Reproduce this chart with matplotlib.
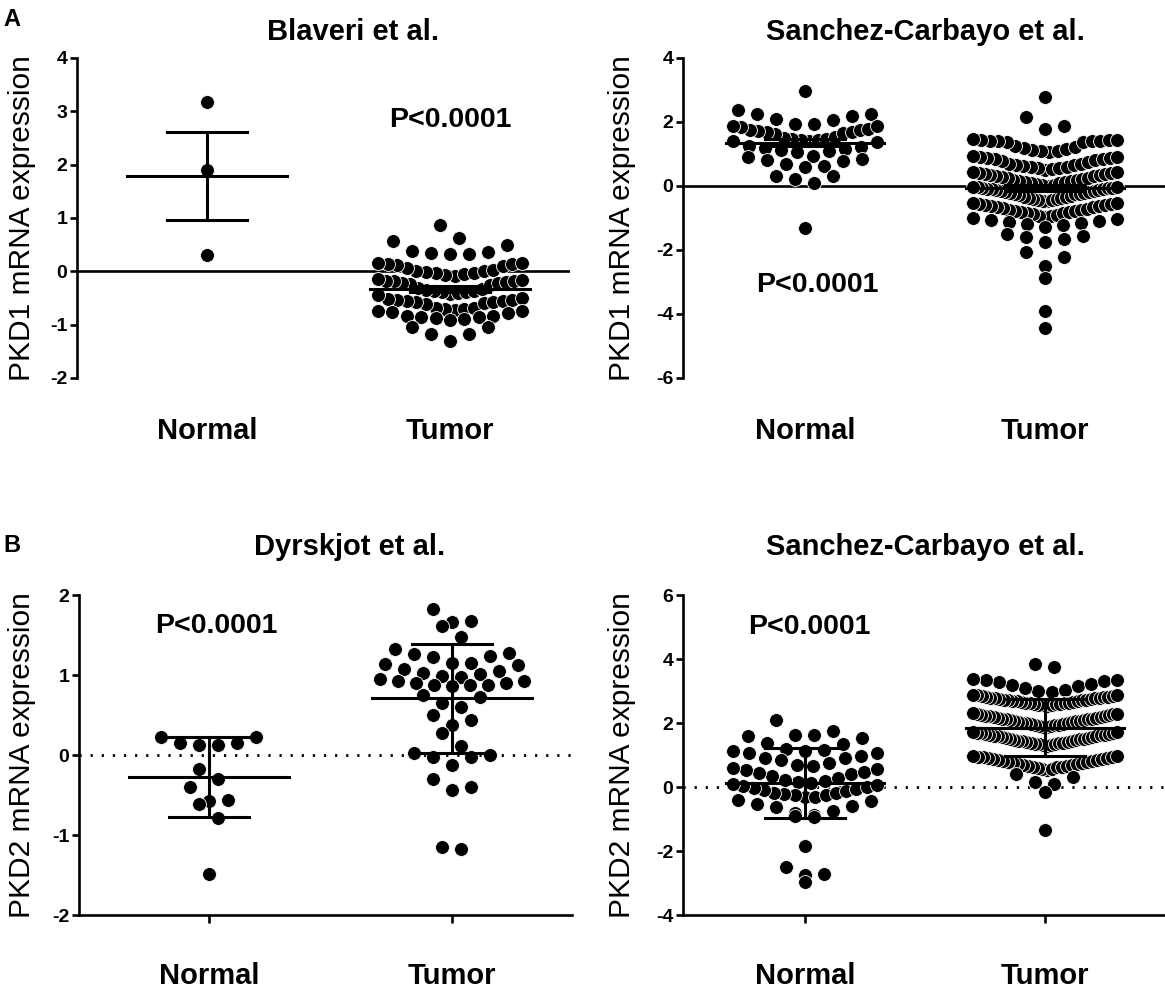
import matplotlib
matplotlib.use('Agg')
from matplotlib import pyplot
from matplotlib import transforms
import numpy

pyplot.rcParams['font.family'] = ['Liberation Sans', 'DejaVu Sans']
pyplot.rcParams['axes.unicode_minus'] = False

groups = ['Normal', 'Tumor']

# PKD1, Blaveri et al.
blaveri_normal = [3.17, 1.90, 0.30]
blaveri_tumor = [0.86, 0.62, 0.56, 0.49,
                 0.38, 0.33, 0.33, 0.34, 0.37,
                 0.16, 0.14, 0.10, 0.12, 0.13, 0.15, 0.06,
                 0.02, -0.02, -0.05, -0.08, -0.04, 0.00, -0.03, -0.06, 0.01,
                 -0.18, -0.20, -0.22, -0.25, -0.15, -0.19, -0.23, -0.17, -0.21, -0.18,
                 -0.33, -0.36, -0.40, -0.42, -0.35, -0.38, -0.31, -0.44, -0.37, -0.39,
                 -0.50, -0.53, -0.56, -0.60, -0.58, -0.52, -0.61, -0.55, -0.57, -0.54,
                 -0.68, -0.70, -0.74, -0.76, -0.72, -0.69, -0.75, -0.71, -0.78,
                 -0.83, -0.86, -0.90, -0.85, -0.88, -0.92, -0.84,
                 -1.05, -1.05, -1.17, -1.17, -1.30]

# PKD1, Sanchez-Carbayo et al.
sc1_normal = [2.97, 2.36, 2.24, 2.19, 2.24, 2.08, 2.05, 1.93, 1.93, 1.88, 1.88, 1.85,
              1.75, 1.72, 1.70, 1.68, 1.78, 1.65, 1.74, 1.62,
              1.50, 1.48, 1.45, 1.42, 1.52, 1.40, 1.46, 1.38, 1.44,
              1.25, 1.22, 1.18, 1.10, 1.15, 1.05, 1.12,
              0.94, 0.90, 0.85, 0.78, 0.82, 0.70, 0.63, 0.60,
              0.31, 0.21, 0.10, 0.31, -1.30]
sc1_tumor = [2.78, 2.16, 1.79, 1.86,
             1.45, 1.42, 1.40, 1.44, 1.41, 1.43, 1.46, 1.39, 1.38, 1.42,
             1.25, 1.18, 1.10, 1.05, 1.22, 1.15, 1.08, 1.12,
             0.95, 0.88, 0.85, 0.92, 0.80, 0.90, 0.83, 0.78, 0.86, 0.75,
             0.70, 0.65, 0.60, 0.55, 0.68, 0.58, 0.52, 0.62, 0.57, 0.50, 0.66,
             0.45, 0.40, 0.35, 0.30, 0.42, 0.38, 0.33, 0.28, 0.44, 0.36, 0.31,
             0.25, 0.20, 0.15, 0.10, 0.22, 0.18, 0.12, 0.08, 0.24, 0.16, 0.05, 0.11,
             0.02, -0.02, -0.05, -0.08, 0.00, -0.04, -0.07, -0.10, 0.03, -0.03, -0.06, -0.09,
             -0.15, -0.20, -0.25, -0.12, -0.18, -0.22, -0.28, -0.14, -0.24, -0.17, -0.26, -0.21,
             -0.35, -0.40, -0.45, -0.32, -0.38, -0.42, -0.48, -0.34, -0.44, -0.37, -0.46,
             -0.55, -0.60, -0.65, -0.52, -0.58, -0.62, -0.68, -0.54, -0.64, -0.57, -0.66,
             -0.75, -0.80, -0.85, -0.72, -0.78, -0.82, -0.88, -0.74, -0.84, -0.77,
             -0.95, -1.00, -1.05, -0.92, -0.98, -1.02, -1.08, -0.94,
             -1.12, -1.18, -1.22, -1.15, -1.28,
             -1.50, -1.55, -1.60, -1.65, -1.75, -2.06, -2.22, -2.50, -2.86, -3.90, -4.43]

# PKD2, Dyrskjot et al.
dyr_normal = [0.23, 0.22, 0.15, 0.15, 0.125, 0.125, -0.17, -0.30, -0.40,
              -0.56, -0.57, -0.61, -0.79, -1.49]
dyr_tumor = [1.83, 1.68, 1.66, 1.61, 1.47,
             1.33, 1.26, 1.23, 1.15, 1.125, 1.14, 1.15, 1.24, 1.28,
             1.07, 1.03, 0.99, 0.95, 0.92, 0.90, 0.88, 0.87, 0.86, 0.88, 0.90, 0.93, 0.97, 1.01, 1.05,
             0.73, 0.75, 0.60, 0.65, 0.50, 0.375, 0.44, 0.28, 0.11,
             -0.02, 0.00, -0.02, 0.02, -0.125, -0.30, -0.40, -0.44, -1.17, -1.15]

# PKD2, Sanchez-Carbayo et al.
sc2_normal = [2.10, 1.74, 1.64, 1.64, 1.58, 1.53, 1.375, 1.33,
              1.19, 1.17, 1.14, 1.11, 1.07, 1.06, 0.96, 0.91, 0.90,
              0.83, 0.75, 0.70, 0.65, 0.58, 0.55, 0.54, 0.47, 0.45, 0.40, 0.35,
              0.29, 0.23, 0.18, 0.15, 0.12, 0.08, 0.05, 0.02, 0.00, -0.03, -0.06, -0.10,
              -0.14, -0.18, -0.20, -0.22, -0.25, -0.26, -0.30, -0.32,
              -0.40, -0.44, -0.54, -0.60, -0.64, -0.76, -0.80, -0.86, -0.90, -0.94,
              -1.85, -2.50, -2.72, -2.76, -2.97]
sc2_tumor = [3.85, 3.75,
             3.38, 3.35, 3.33, 3.30, 3.27, 3.23, 3.20, 3.15, 3.10, 3.04, 2.99, 2.97,
             2.88, 2.86, 2.86, 2.85, 2.83, 2.82, 2.82, 2.80, 2.79, 2.78, 2.77, 2.77,
             2.75, 2.74, 2.73, 2.72, 2.72, 2.71, 2.69, 2.68, 2.68, 2.67, 2.66, 2.64,
             2.63, 2.63, 2.62, 2.60, 2.59, 2.58, 2.57, 2.56, 2.55, 2.54,
             2.30, 2.29, 2.28, 2.27, 2.25, 2.24, 2.23, 2.22, 2.21, 2.19, 2.18, 2.17,
             2.16, 2.14, 2.13, 2.12, 2.11, 2.10, 2.08, 2.07, 2.06, 2.05, 2.03, 2.02,
             2.01, 2.00, 1.99, 1.97, 1.96, 1.95, 1.94, 1.93, 1.91, 1.90, 1.89, 1.87,
             1.72, 1.71, 1.70, 1.69, 1.68, 1.66, 1.65, 1.64, 1.63, 1.61, 1.60, 1.59,
             1.58, 1.56, 1.55, 1.54, 1.53, 1.51, 1.50, 1.49, 1.48, 1.46, 1.45, 1.44,
             1.43, 1.41, 1.40, 1.39, 1.38, 1.36, 1.35, 1.34, 1.33, 1.31, 1.30, 1.29,
             0.98, 0.97, 0.95, 0.94, 0.93, 0.91, 0.90, 0.88, 0.87, 0.85, 0.84, 0.82,
             0.81, 0.79, 0.78, 0.76, 0.75, 0.73, 0.72, 0.70, 0.68, 0.67, 0.65, 0.64,
             0.62, 0.61, 0.59, 0.57, 0.55, 0.53,
             0.41, 0.31, 0.15, 0.10, -0.16, -1.35]

titles = ['Blaveri et al.', 'Sanchez-Carbayo et al.', 'Dyrskjot et al.', 'Sanchez-Carbayo et al.']
ylabels = ['PKD1 mRNA expression', 'PKD1 mRNA expression', 'PKD2 mRNA expression', 'PKD2 mRNA expression']
yticks = [[-2, -1, 0, 1, 2, 3, 4], [-6, -4, -2, 0, 2, 4], [-2, -1, 0, 1, 2], [-4, -2, 0, 2, 4, 6]]
p_text = 'P<0.0001'
p_pos = [(2.0, 2.83), (1.05, -3.08), (1.03, 1.61), (1.02, 5.0)]
datasets = [(blaveri_normal, blaveri_tumor), (sc1_normal, sc1_tumor),
            (dyr_normal, dyr_tumor), (sc2_normal, sc2_tumor)]


def dot_layout(values, centre, row_h, step, half_w):
    # GraphPad style: values within one row height share a row,
    # lowest value in the middle, higher ones pushed outwards
    vals = numpy.sort(numpy.asarray(values, dtype=float))[::-1]
    xs, ys = [], []
    i = 0
    while i < len(vals):
        top = vals[i]
        row = [v for v in vals[i:] if v >= top - row_h]
        i += len(row)
        row = sorted(row)
        n = len(row)
        gap = step if n < 2 else min(step, 2 * half_w / (n - 1))
        slots = numpy.arange(n) - (n - 1) / 2
        slots = sorted(slots, key=lambda s: (abs(s), -s))
        for v, s in zip(row, slots):
            xs.append(centre + s * gap)
            ys.append(v)
    return xs, ys


W, H = 1165, 994
fig = pyplot.figure(figsize=(W / 100, H / 100), dpi=100)

# axes boxes in pixels: left, top, right, bottom
boxes = [(77, 58, 570, 378), (683, 58, 1165, 378),
         (79, 595, 572, 915), (683, 595, 1165, 915)]
xlims = [(0.465, 2.494), (0.492, 2.5), (0.465, 2.494), (0.492, 2.5)]
title_x = [1.6, 1.5, 1.58, 1.5]
label_right = [36, 636, 36, 636]

for k in range(4):
    l, t, r, b = boxes[k]
    ax = fig.add_axes([l / W, 1 - b / H, (r - l) / W, (b - t) / H])
    ax.set_xlim(*xlims[k])
    ax.set_ylim(yticks[k][0], yticks[k][-1])
    top_row = k < 2

    px_x = (r - l) / (xlims[k][1] - xlims[k][0])
    px_y = (b - t) / (yticks[k][-1] - yticks[k][0])

    if top_row:
        ax.axhline(0, color='black', lw=1.9, zorder=1)
    else:
        ax.axhline(0, color='black', lw=2.0, ls=(0, (0.8, 3.2)), zorder=1)

    for j, vals in enumerate(datasets[k]):
        centre = j + 1
        xs, ys = dot_layout(vals, centre, 15 / px_y, 19 / px_x, 72 / px_x)
        ax.scatter(xs, ys, s=100, color='black', edgecolors='white', linewidths=0.6,
                   zorder=3, clip_on=False)
        arr = numpy.asarray(vals)
        mean = arr.mean()
        sd = arr.std(ddof=1)
        err = sd / numpy.sqrt(len(arr)) if top_row else sd
        ax.plot([centre - 0.33, centre + 0.33], [mean, mean], color='black', lw=2.2, zorder=4)
        ax.plot([centre, centre], [mean - err, mean + err], color='black', lw=2.2, zorder=4)
        for e in (mean - err, mean + err):
            ax.plot([centre - 0.165, centre + 0.165], [e, e], color='black', lw=2.2, zorder=4)

    ax.text(p_pos[k][0], p_pos[k][1], p_text, fontsize=20.5, fontweight='bold',
            ha='center', va='center')

    # title sits above the axes, baseline a fixed distance over the top spine
    trans = transforms.blended_transform_factory(ax.transData, ax.transAxes)
    gap = 18 if top_row else 40
    ax.text(title_x[k], 1 + gap / (b - t), titles[k], transform=trans,
            fontsize=21, fontweight='bold', ha='center', va='baseline')

    ax.spines['top'].set_visible(False)
    ax.spines['right'].set_visible(False)
    ax.spines['left'].set_linewidth(1.9)
    ax.spines['bottom'].set_linewidth(1.9)
    if top_row:
        ax.spines['bottom'].set_visible(False)
    ax.set_yticks(yticks[k])
    ax.set_yticklabels([str(v) for v in yticks[k]], fontsize=14, fontweight='bold')
    ax.tick_params(axis='y', length=5, width=1.9, pad=2)
    ax.set_xticks([1, 2])
    ax.set_xticklabels(groups, fontsize=21, fontweight='bold')
    if top_row:
        ax.tick_params(axis='x', length=0, pad=28)
    else:
        ax.tick_params(axis='x', length=6, width=1.9, pad=28)

    ax.set_ylabel(ylabels[k], fontsize=21.5)
    ax.yaxis.set_label_coords(-(l - label_right[k]) / (r - l), 0.5)

fig.text(12 / W, 1 - 20 / H, 'A', fontsize=17, fontweight='bold', ha='center', va='center')
fig.text(12 / W, 1 - 545 / H, 'B', fontsize=17, fontweight='bold', ha='center', va='center')

fig.savefig('out.png')
